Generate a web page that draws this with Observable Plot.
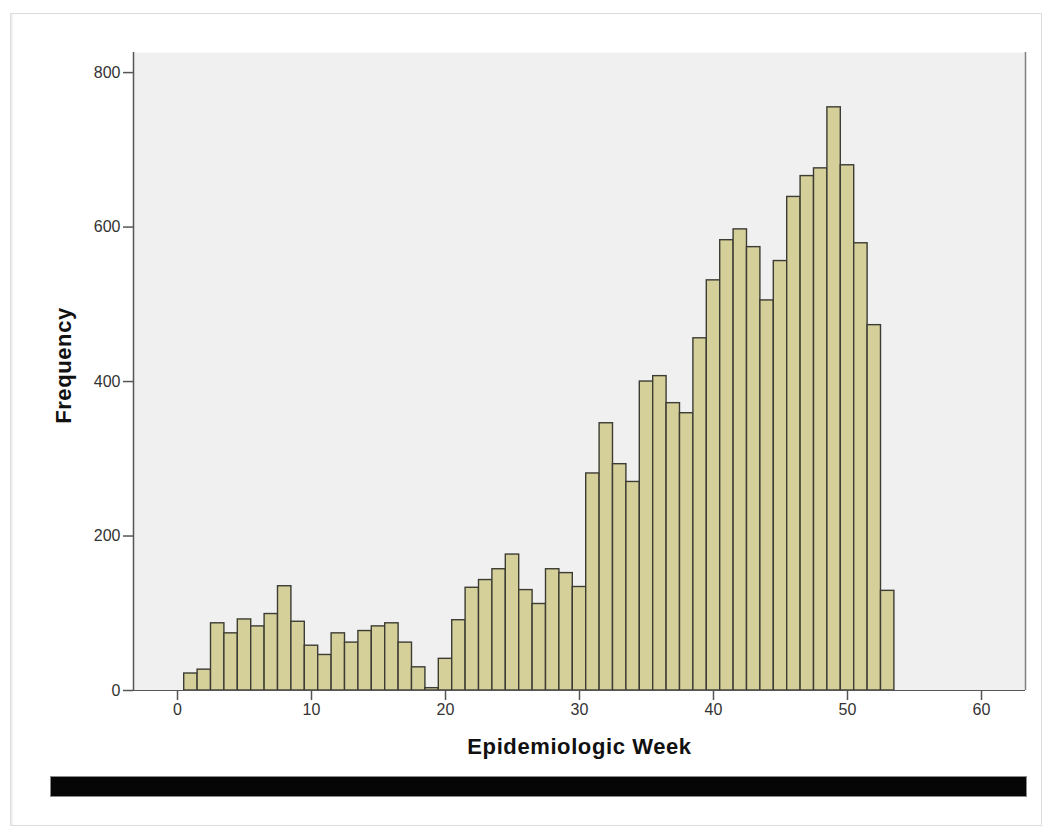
<!DOCTYPE html>
<html>
<head>
<meta charset="utf-8">
<script src="https://cdn.jsdelivr.net/npm/d3@7"></script>
<script src="https://cdn.jsdelivr.net/npm/@observablehq/plot@0.6"></script>
<style>
  html, body { margin: 0; padding: 0; background: #ffffff; }
  #wrap { position: relative; width: 1053px; height: 830px; overflow: hidden; }
  #border { position: absolute; left: 10px; top: 13px; width: 1032px; height: 813px;
            border: 1px solid #dcdcdc; box-shadow: inset 3px 0 3px -2px #e4e4e4; box-sizing: border-box; }
  #chart { position: absolute; left: 0; top: 0; }
  #blackbar { position: absolute; left: 50px; top: 776px; width: 977px; height: 21px;
              background: #060606; border: 1px solid #8a8a8a; box-sizing: border-box; }
</style>
</head>
<body>
<div id="wrap">
  <div id="border"></div>
  <div id="chart"></div>
  <div id="blackbar"></div>
</div>
<script>
// Epidemiologic week and case frequency
const weeks = [1,2,3,4,5,6,7,8,9,10,11,12,13,14,15,16,17,18,19,20,
  21,22,23,24,25,26,27,28,29,30,31,32,33,34,35,36,37,38,39,40,
  41,42,43,44,45,46,47,48,49,50,51,52,53];
const counts = [22,27,87,74,92,83,99,135,89,58,46,74,62,77,83,87,62,30,3,41,
  91,133,143,157,176,130,112,157,152,134,281,346,293,270,400,407,372,359,456,531,
  583,597,574,505,556,639,666,676,755,680,579,473,129];
const xTicks = [0,10,20,30,40,50,60];
const yTicks = [0,200,400,600,800];
const xDomain = [-3.284, 63.284];
const yDomain = [0, 826];

const data = weeks.map((w, i) => ({week: w, count: counts[i]}));

const font = "'Liberation Sans', Arial, sans-serif";

const chart = Plot.plot({
  width: 1053,
  height: 830,
  marginLeft: 133,
  marginRight: 28,
  marginTop: 52,
  marginBottom: 140,
  style: {fontFamily: font, fontSize: "16px", color: "#333", background: "transparent", overflow: "visible"},
  x: {domain: xDomain},
  y: {domain: yDomain},
  marks: [
    Plot.frame({fill: "#f0f0f0", stroke: "none"}),
    Plot.rectY(data, {
      x1: d => d.week - 0.5,
      x2: d => d.week + 0.5,
      y: "count",
      fill: "#d5d09a",
      stroke: "#3c3c34",
      strokeWidth: 1.4,
      inset: 0
    }),
    Plot.ruleX([xDomain[1]], {stroke: "#808080", strokeWidth: 1.5}),
    Plot.ruleX([xDomain[0]], {stroke: "#555", strokeWidth: 1.5}),
    Plot.ruleY([0], {stroke: "#555", strokeWidth: 1.2}),
    Plot.axisY({
      ticks: yTicks, tickSize: 10, tickPadding: 3, stroke: "#555", strokeWidth: 1.5,
      fill: "#333", fontSize: 16,
      label: "Frequency", labelAnchor: "center", labelArrow: "none", labelOffset: 78
    }),
    Plot.axisX({
      ticks: xTicks, tickSize: 10, tickPadding: 3, stroke: "#555", strokeWidth: 1.5,
      fill: "#333", fontSize: 16,
      label: "Epidemiologic Week", labelAnchor: "center", labelArrow: "none", labelOffset: 63
    })
  ]
});

// Style axis titles bold and larger
chart.querySelectorAll("g[aria-label='y-axis label'] text, g[aria-label='x-axis label'] text").forEach(t => {
  t.setAttribute("font-weight", "bold");
  t.style.fontWeight = "bold";
  t.style.fontSize = "22px";
  t.style.letterSpacing = "0.6px";
  t.setAttribute("fill", "#111");
});
chart.querySelectorAll("g[aria-label='y-axis label'] text").forEach(t => {
  t.setAttribute("dx", "6");
});
chart.querySelectorAll("g[aria-label='y-axis tick label'] text, g[aria-label='x-axis tick label'] text").forEach(t => {
  t.style.fontSize = "16px";
});

document.getElementById("chart").appendChild(chart);
</script>
</body>
</html>
